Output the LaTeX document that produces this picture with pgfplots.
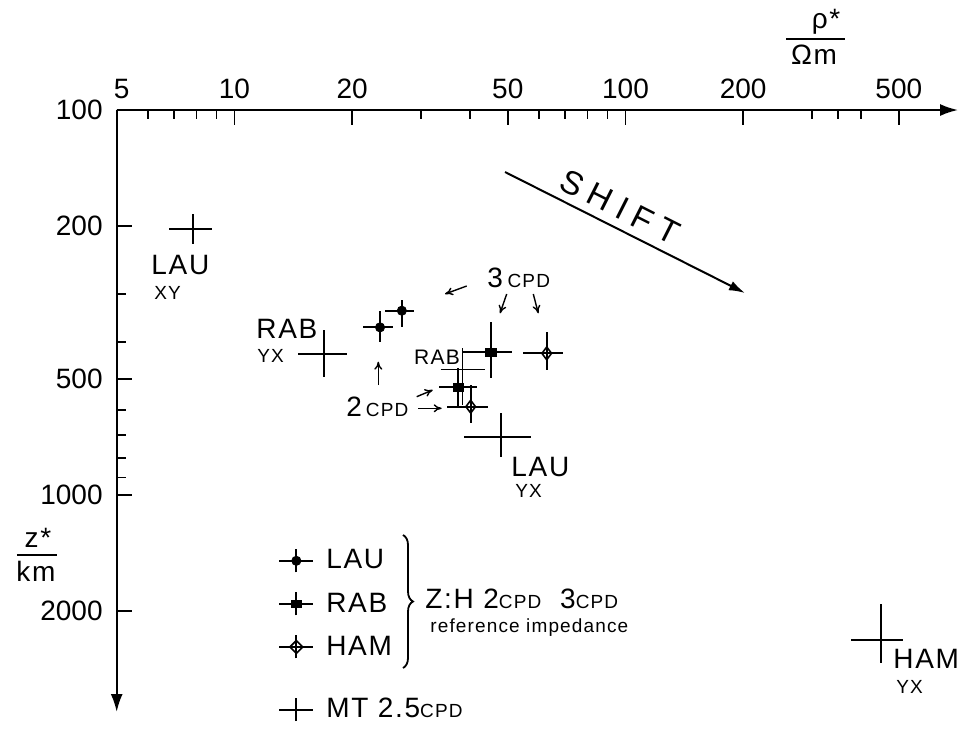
\documentclass[border=0pt]{standalone}
\usepackage{fontspec}
\setmainfont[LetterSpace=6]{Liberation Sans}
\newfontfamily\numfont{Liberation Sans}
\newfontfamily\widefont[LetterSpace=25]{Liberation Sans}
\usepackage{pgfplots}
\usepackage{pgfplotstable}
\pgfplotsset{compat=1.18}
\usetikzlibrary{arrows.meta,decorations.pathreplacing}

\newcommand{\bigf}{\fontsize{14}{16}\selectfont}
\newcommand{\smallf}{\fontsize{9.5}{11}\selectfont}
\newcommand{\medf}{\fontsize{10.5}{12}\selectfont}

% MT (magnetotelluric) crosses: x y and asymmetric errors
\pgfplotstableread{
x     y     xm    xp    ym    yp
7.82  204   1.00  0.96  17.6  18.8
16.95 431   2.45  2.45  58    62
48    708   9.3   9.3   97    90
450   2380  72    62    458   346
}\mtdata
% Z:H reference impedance, 2 cpd and 3 cpd
\pgfplotstableread{
x     y     xm    xp    ym    yp
23.57 366.9 2.27  1.93  34.8  34.4
26.8  332.1 2.6   2.0   20.5  33.5
}\laudata
\pgfplotstableread{
x     y     xm    xp    ym    yp
37.4  525.1 4.0   4.3   56.3  64.5
45.2  426   6.7   6.0   71.2  71.5
}\rabdata
\pgfplotstableread{
x     y     xm    xp    ym    yp
40.2  589.6 5.3   4.2   71.6  61.7
62.9  428.6 8.3   6.5   52    45
}\hamdata

\pgfplotsset{
  errcross/.style={only marks, black,
    error bars/x dir=both, error bars/y dir=both,
    error bars/x explicit, error bars/y explicit,
    error bars/error mark=none,
    error bars/error bar style={line width=0.95pt, draw=black}},
  crossimg/.style={legend image code/.code={\draw[line width=0.95pt] (0pt,0pt)--(17pt,0pt) (8.5pt,-5.75pt)--(8.5pt,5.75pt); #1}},
}

\begin{document}
\begin{tikzpicture}[font=\bigf]
\begin{axis}[
  scale only axis, width=420.7pt, height=301pt,
  xmode=log, ymode=log, y dir=reverse,
  xmin=5, xmax=709, ymin=100, ymax=3661,
  axis x line=top, axis y line=left,
  axis line style={line width=1.1pt, -{Latex[length=9pt,width=6pt]}},
  xtick={5,10,20,50,100,200,500}, xticklabels={\hspace*{5pt}5,10,20,50,100,200,500},
  minor xtick={6,7,8,9,30,40,60,70,80,90,300,350,400},
  ytick={100,200,500,1000,2000}, yticklabels={100,200,500,1000,2000},
  minor ytick={300,400,600,700,800,900},
  tick align=inside, major tick length=7.5pt, minor tick length=4.5pt,
  tick style={line width=0.9pt, black},
  xticklabel style={font=\numfont\bigf, yshift=2pt},
  yticklabel style={font=\numfont\bigf, xshift=-3.5pt},
  legend style={at={(0.1917,0.277)}, anchor=north west, draw=none, fill=none,
    nodes={font=\bigf}, row sep=6.4pt, column sep=4pt, inner sep=0pt},
  legend cell align=left,
  clip=false,
]
\addplot[errcross, mark=*, mark size=2.3pt,
  crossimg={\fill (8.5pt,0pt) circle (2.3pt);}]
  table[x=x,y=y,x error minus=xm,x error plus=xp,y error minus=ym,y error plus=yp]{\laudata};
\addlegendentry{LAU}
\addplot[errcross, mark=square*, mark size=1.9pt, mark options={xscale=1.4},
  crossimg={\fill (8.5pt,0pt) +(-2.6pt,-1.9pt) rectangle +(2.6pt,1.9pt);}]
  table[x=x,y=y,x error minus=xm,x error plus=xp,y error minus=ym,y error plus=yp]{\rabdata};
\addlegendentry{RAB}
\addplot[errcross, mark=diamond, mark size=3.2pt, mark options={fill=none, line width=0.8pt},
  crossimg={\draw[line width=0.8pt] (8.5pt,0pt) +(-3.2pt,0pt)--+(0pt,3.2pt)--+(3.2pt,0pt)--+(0pt,-3.2pt)--cycle;}]
  table[x=x,y=y,x error minus=xm,x error plus=xp,y error minus=ym,y error plus=yp]{\hamdata};
\addlegendentry{HAM}
\addplot[draw=none, mark=none, forget plot,
  error bars/x dir=both, error bars/y dir=both,
  error bars/x explicit, error bars/y explicit,
  error bars/error mark=none,
  error bars/error bar style={line width=0.95pt, draw=black, solid}]
  table[x=x,y=y,x error minus=xm,x error plus=xp,y error minus=ym,y error plus=yp]{\mtdata};
\end{axis}
% separate legend for the MT crosses (same axis box, nothing plotted)
\begin{axis}[
  scale only axis, width=420.7pt, height=301pt, hide axis,
  xmin=0, xmax=1, ymin=0, ymax=1,
  legend style={at={(0.1917,0.0299)}, anchor=north west, draw=none, fill=none,
    nodes={font=\bigf}, column sep=4pt, inner sep=0pt},
  legend cell align=left,
]
\addlegendimage{crossimg={}}
\addlegendentry{MT 2.5{\smallf CPD}}
\end{axis}

\begin{scope}[shift={(current axis.south west)}, xshift=-58.35pt, yshift=356pt, x=0.5pt, y=-0.5pt]
  % axis titles
  \node[inner sep=0pt] at (826,22) {ρ*};
  \draw[line width=0.9pt] (786,39) -- (845,39);
  \node[inner sep=0pt] at (814,55) {Ωm};
  \node[inner sep=0pt] at (38,538) {z*};
  \draw[line width=0.9pt] (17,555) -- (57,555);
  \node[inner sep=0pt] at (36,571) {km};
  % shift arrow
  \draw[line width=1pt, -{Latex[length=8pt,width=5pt]}] (505,172) -- (745,293);
  \node[inner sep=0pt, rotate=-26.8, font=\fontsize{16.5}{18}\selectfont] at (620,207) {\widefont SHIFT};
  % station labels
  \node[anchor=west, inner sep=0pt] at (151,265) {LAU};
  \node[anchor=west, inner sep=0pt, font=\smallf] at (154,293) {XY};
  \node[anchor=west, inner sep=0pt] at (256,329) {RAB};
  \node[anchor=west, inner sep=0pt, font=\smallf] at (257,356) {YX};
  \node[anchor=west, inner sep=0pt] at (511,467) {LAU};
  \node[anchor=west, inner sep=0pt, font=\smallf] at (515,491) {YX};
  \node[anchor=west, inner sep=0pt] at (893,659) {HAM};
  \node[anchor=west, inner sep=0pt, font=\smallf] at (896,687) {YX};
  % cpd annotations
  \node[anchor=west, inner sep=0pt] at (487,278) {3\,{\smallf CPD}};
  \node[anchor=west, inner sep=0pt] at (346,407) {2\kern2pt{\smallf CPD}};
  \node[inner sep=0pt, font=\medf] at (437,357) {RAB};
  \draw[line width=0.7pt] (440.7,369.3) -- (485,369.3);
  \draw[line width=0.5pt] (462.7,348) -- (462.7,405);
  \begin{scope}[line width=0.7pt, -{To[length=4pt,width=4pt]}]
    \draw (378.3,385) -- (378.3,361.7);
    \draw (416.7,396.7) -- (432.7,390);
    \draw (418.3,408.3) -- (441.7,408.3);
    \draw (466.7,286) -- (445,294);
    \draw (506.7,294) -- (500,313.3);
    \draw (533.3,294) -- (538.3,313.3);
  \end{scope}
  % legend bracket and description
  \draw[line width=0.9pt, decorate, decoration={brace, amplitude=5pt}] (403,535) -- (403,668);
  \node[anchor=west, inner sep=0pt] at (425,599) {Z:H 2{\smallf CPD}\ \ 3{\smallf CPD}};
  \node[anchor=west, inner sep=0pt, font=\smallf] at (430,628) {reference impedance};
  \pgfresetboundingbox
  \path[use as bounding box] (0,0) rectangle (964,730);
\end{scope}
\end{tikzpicture}
\end{document}
